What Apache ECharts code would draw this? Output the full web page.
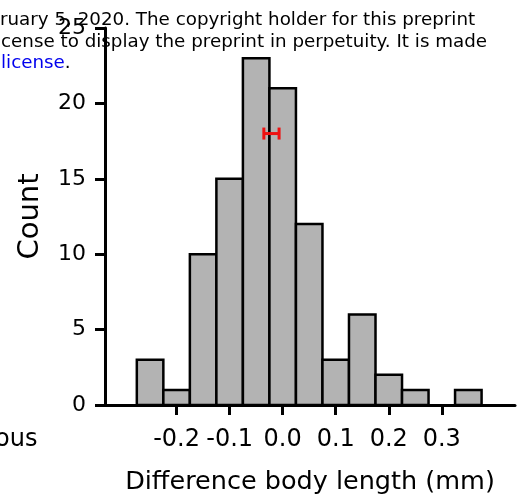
<!DOCTYPE html>
<html><head><meta charset="utf-8">
<script src="https://cdn.jsdelivr.net/npm/echarts@6/dist/echarts.min.js"></script>
<style>html,body{margin:0;padding:0;background:#fff;overflow:hidden;}#c{width:525px;height:502px;}</style>
</head><body><div id="c"></div>
<script>
// ---- data ----
const binCenters = [-0.25, -0.2, -0.15, -0.1, -0.05, 0.0, 0.05, 0.1, 0.15, 0.2, 0.25, 0.3, 0.35];
const counts     = [3, 1, 10, 15, 23, 21, 12, 3, 6, 2, 1, 0, 1];
const binWidth = 0.05;
const xTicks = [-0.2, -0.1, 0.0, 0.1, 0.2, 0.3];
const xTickLabels = ['-0.2', '-0.1', '0.0', '0.1', '0.2', '0.3'];
const yTicks = [0, 5, 10, 15, 20, 25];
const meanDiff = [-0.0215];
const meanLow = [-0.0355];
const meanHigh = [-0.0068];
const meanLevel = [18];
const headerLines = [
  'ruary 5, 2020. The copyright holder for this preprint',
  'cense to display the preprint in perpetuity. It is made',
  'license'
];
const sideText = 'ous';
const xTitle = 'Difference body length (mm)';
const yTitle = 'Count';

const FONT = 'DejaVu Sans';
const chart = echarts.init(document.getElementById('c'), null, {renderer: 'canvas'});

const histData = binCenters.map((c, i) => [c, counts[i]]);
const errData = meanDiff.map((m, i) => [m, meanLevel[i], meanLow[i], meanHigh[i]]);

chart.setOption({
  animation: false,
  backgroundColor: '#ffffff',
  grid: {left: 105, right: 10, top: 28, bottom: 97},
  xAxis: {
    type: 'value', min: -0.335, max: 0.438,
    splitLine: {show: false},
    axisLine: {show: true, onZero: false, lineStyle: {color: '#000', width: 3}},
    axisTick: {show: true, length: 10, lineStyle: {color: '#000', width: 3}, customValues: xTicks},
    axisLabel: {
      customValues: xTicks, margin: 23, color: '#000', fontFamily: FONT, fontSize: 24,
      formatter: v => { const i = xTicks.findIndex(t => Math.abs(t - v) < 1e-9); return i >= 0 ? xTickLabels[i] : ''; }
    },
    name: xTitle, nameLocation: 'middle', nameGap: 64,
    nameTextStyle: {color: '#000', fontFamily: FONT, fontSize: 25.5}
  },
  yAxis: {
    type: 'value', min: 0, max: 25, interval: 5,
    splitLine: {show: false},
    axisLine: {show: true, onZero: false, lineStyle: {color: '#000', width: 3}},
    axisTick: {show: true, length: 10, lineStyle: {color: '#000', width: 3}},
    axisLabel: {
      margin: 19, color: '#000', fontFamily: FONT, fontSize: 22, padding: [4, 0, 0, 0],
      formatter: v => (yTicks.indexOf(v) >= 0 ? String(v) : '')
    },
    name: yTitle, nameLocation: 'middle', nameGap: 60,
    nameTextStyle: {color: '#000', fontFamily: FONT, fontSize: 29}
  },
  series: [
    {
      type: 'custom', data: histData, z: 2,
      renderItem: (params, api) => {
        const c = api.value(0), n = api.value(1);
        if (!n) return;
        const p0 = api.coord([c - binWidth / 2, 0]);
        const p1 = api.coord([c + binWidth / 2, n]);
        return {type: 'rect',
          shape: {x: p0[0], y: p1[1], width: p1[0] - p0[0], height: p0[1] - p1[1]},
          style: {fill: '#b3b3b3', stroke: '#000', lineWidth: 2.5}};
      }
    },
    {
      type: 'custom', data: errData, z: 5,
      renderItem: (params, api) => {
        const m = api.coord([api.value(2), api.value(1)]);
        const n = api.coord([api.value(3), api.value(1)]);
        const h = 6;
        const st = {stroke: '#ee1111', lineWidth: 3};
        return {type: 'group', children: [
          {type: 'line', shape: {x1: m[0], y1: m[1], x2: n[0], y2: n[1]}, style: st},
          {type: 'line', shape: {x1: m[0], y1: m[1] - h, x2: m[0], y2: m[1] + h}, style: st},
          {type: 'line', shape: {x1: n[0], y1: n[1] - h, x2: n[0], y2: n[1] + h}, style: st}
        ]};
      }
    }
  ],
  graphic: [
    {type: 'text', left: 0, top: 11, z: 10, style: {text: headerLines[0], fill: '#000', font: '18.3px "' + FONT + '"'}},
    {type: 'text', left: 1, top: 33, z: 10, style: {text: headerLines[1], fill: '#000', font: '18.3px "' + FONT + '"'}},
    {type: 'text', left: 1, top: 54, z: 10, style: {text: '{b|' + headerLines[2] + '}.', fill: '#000', font: '18.3px "' + FONT + '"',
      rich: {b: {fill: '#0000ee', fontFamily: FONT, fontSize: 18.3}}}},
    {type: 'text', x: -5, y: 428, z: 10, style: {text: sideText, fill: '#000', font: '24px "' + FONT + '"'}}
  ]
});
</script></body></html>
